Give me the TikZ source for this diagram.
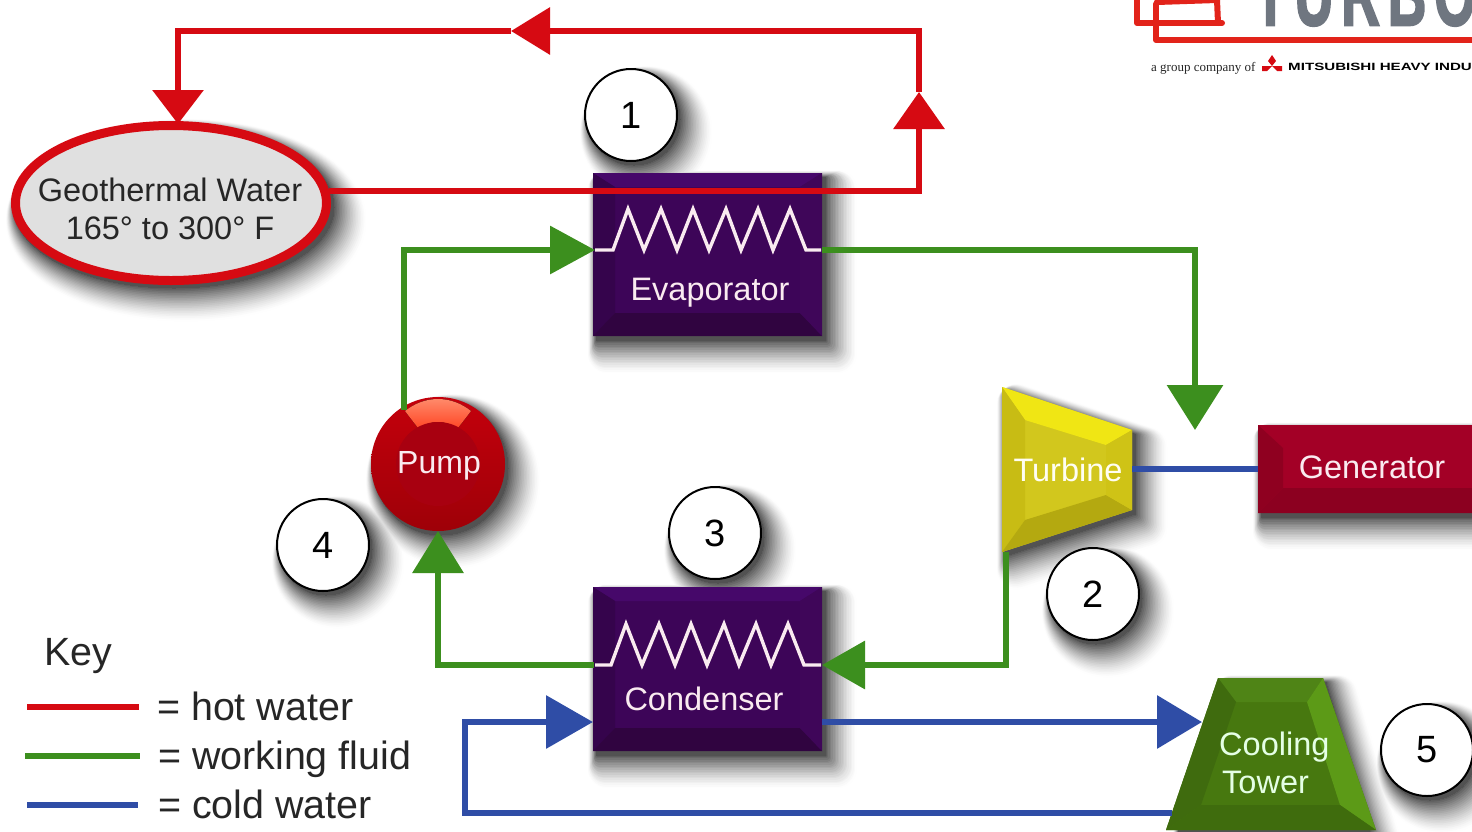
\documentclass[tikz,border=0pt]{standalone}
\usepackage{fontspec}
\setmainfont{Liberation Sans}
\newfontfamily\serifface{Liberation Serif}
\newfontfamily\logoface[FakeBold=3]{Liberation Sans Bold}
\usetikzlibrary{arrows.meta,shapes.geometric}
\definecolor{hotred}{HTML}{D60A12}
\definecolor{logored}{HTML}{E2231A}
\definecolor{logogray}{HTML}{6F7680}
\definecolor{fluidgreen}{HTML}{3C8F1E}
\definecolor{coldblue}{HTML}{2F4DA6}
\definecolor{purp}{HTML}{3D0558}
\definecolor{purpT}{HTML}{46086A}
\definecolor{purpL}{HTML}{35044C}
\definecolor{purpB}{HTML}{300440}
\definecolor{purpR}{HTML}{3F0659}
\definecolor{genC}{HTML}{A30026}
\definecolor{genL}{HTML}{8F0020}
\definecolor{genB}{HTML}{8C0020}
\definecolor{towC}{HTML}{47780F}
\definecolor{towT}{HTML}{4F8416}
\definecolor{towL}{HTML}{3F6B0E}
\definecolor{towR}{HTML}{5C9A17}
\definecolor{towB}{HTML}{3F6C0D}
\definecolor{turC}{HTML}{D2C71D}
\definecolor{turT}{HTML}{F0E614}
\definecolor{turL}{HTML}{C8BC14}
\definecolor{turB}{HTML}{B4A910}
\definecolor{turR}{HTML}{CFC316}
\definecolor{pumpTop}{HTML}{C4000C}
\definecolor{pumpBot}{HTML}{9E0008}
\definecolor{pumpMid}{HTML}{A80010}
\newcommand{\softshadow}[1]{\foreach \w in {40,38,...,0}{%
  \pgfmathsetmacro\gr{68*(1-\w/41)^1.4}%
  \pgfmathsetmacro\sx{3+0.3*\w}%
  \pgfmathsetmacro\sy{4+0.33*\w}%
  \draw[blend mode=darken,line width=\w pt,draw=black!\gr,fill=black!\gr,line join=round,shift={(\sx,\sy)}] #1;}}
\newcommand{\fsz}[1]{\fontsize{#1}{#1}\selectfont}
\tikzset{
  x=1pt,y=-1pt,
  shapebox/.style={inner sep=0,outer sep=0,minimum width=229pt,minimum height=163pt,fill=purp},
  boxtext/.style={inner sep=0,text=white!92!purple,font=\fsz{32.5}},
  pipe/.style={line width=6.5pt,line join=miter},
  hot/.style={pipe,draw=hotred},
  fluid/.style={pipe,draw=fluidgreen},
  cold/.style={pipe,draw=coldblue},
  badge/.style={circle,draw=black,line width=2pt,fill=white,minimum size=92pt,inner sep=0,font=\fsz{38}},
  keytext/.style={anchor=base west,inner sep=0,font=\fsz{39.4},text=black!85},
  coil/.style={draw=white!92!purple,line width=3.4pt,line join=miter},
  logoline/.style={line width=6pt,draw=logored,line cap=round,line join=round}
}
\begin{document}
\begin{tikzpicture}
\useasboundingbox (0,0) rectangle (1472,831);
\fill[white] (0,0) rectangle (1472,831);

% logo
\begin{scope}
\clip (0,0) rectangle (1472,831);
\draw[logoline] (1137,-3) -- (1137,23) -- (1222,23);
\draw[logoline] (1157,2) -- (1217,0) -- (1218,23);
\draw[logoline] (1156,4) -- (1156,40) -- (1480,40);
\node[anchor=base west,inner sep=0,text=logogray,font=\logoface\fsz{58}] (logoname) at (1254,25) {\scalebox{0.92}[1.5]{T\kern8.7pt U\kern8.7pt R\kern8.7pt B\kern8.7pt O}};
\node[anchor=base west,inner sep=0,text=black!85,font=\serifface\fsz{13}] (logotag) at (1151,71) {a group company of};
\fill[hotred] (1272,55) -- (1276,61) -- (1272,66) -- (1268,61) -- cycle;
\fill[hotred] (1272,66) -- (1262,66) -- (1262,71) -- (1267,71) -- cycle;
\fill[hotred] (1272,66) -- (1282,66) -- (1282,71) -- (1277,71) -- cycle;
\node[anchor=base west,inner sep=0,text=black,font=\bfseries\fsz{10.5}] (logocompany) at (1288,70.5) {\scalebox{1.44}[1]{MITSUBISHI HEAVY INDU}};
\end{scope}

% shadows
\softshadow{(631,115) circle [radius=46pt]}
\softshadow{(1093,594) circle [radius=46pt]}
\softshadow{(715,533) circle [radius=46pt]}
\softshadow{(323,545) circle [radius=46pt]}
\softshadow{(1427,750) circle [radius=46pt]}
\softshadow{(593,173) rectangle (822,336)}
\softshadow{(593,587) rectangle (822,751)}
\softshadow{(1002,387) -- (1132,430) -- (1132,510) -- (1002,552) -- cycle}
\softshadow{(1258,425) rectangle (1520,513)}
\softshadow{(1218,678) -- (1323,678) -- (1376,860) -- (1166,860) -- cycle}
\softshadow{(438,464) circle [radius=67pt]}
\softshadow{(171,203) ellipse [x radius=160pt,y radius=81pt]}

% geothermal source
\node[ellipse,draw=hotred,line width=9pt,fill=black!12,minimum width=311pt,minimum height=155pt,inner sep=0] (geo) at (171,203) {};
\node[inner sep=0,font=\fsz{32.5},text=black!85,align=center] (geotext) at (170,209) {Geothermal Water\\[5pt]165° to 300° F};

% exchangers
\node[shapebox] (evap) at (707.5,254.5) {};
\fill[purpT] (593,173) -- (822,173) -- (800,187) -- (615,187) -- cycle;
\fill[purpL] (593,173) -- (615,187) -- (615,313) -- (593,336) -- cycle;
\fill[purpB] (593,336) -- (615,313) -- (800,313) -- (822,336) -- cycle;
\fill[purpR] (822,173) -- (800,187) -- (800,313) -- (822,336) -- cycle;
\node[shapebox,minimum height=164pt] (cond) at (707.5,669) {};
\fill[purpT] (593,587) -- (822,587) -- (800,601) -- (615,601) -- cycle;
\fill[purpL] (593,587) -- (615,601) -- (615,728) -- (593,751) -- cycle;
\fill[purpB] (593,751) -- (615,728) -- (800,728) -- (822,751) -- cycle;
\fill[purpR] (822,587) -- (800,601) -- (800,728) -- (822,751) -- cycle;
\draw[coil] (595,250) -- (613,250) -- (628,209) -- (644,250) -- (661,209) -- (677,250) -- (693,209) -- (709,250) -- (726,209) -- (741,250) -- (758,209) -- (773,250) -- (790,209) -- (806,250) -- (821,250);
\draw[coil] (595,665) -- (611,665) -- (626,624) -- (642,665) -- (659,624) -- (675,665) -- (691,624) -- (707,665) -- (724,624) -- (739,665) -- (756,624) -- (771,665) -- (788,624) -- (804,665) -- (821,665);
\node[boxtext] (evaptext) at (710,293) {Evaporator};
\node[boxtext] (condtext) at (704,699) {Condenser};

% turbine
\fill[turC] (1002,387) -- (1132,430) -- (1132,510) -- (1002,552) -- cycle;
\fill[turT] (1002,387) -- (1132,430) -- (1106,445) -- (1025,420) -- cycle;
\fill[turL] (1002,387) -- (1025,420) -- (1025,520) -- (1002,552) -- cycle;
\fill[turB] (1002,552) -- (1025,520) -- (1106,495) -- (1132,510) -- cycle;
\fill[turR] (1132,430) -- (1106,445) -- (1106,495) -- (1132,510) -- cycle;
\node[boxtext,text=white!95!yellow] (turbine) at (1068,470) {Turbine};

% generator
\node[inner sep=0,outer sep=0,minimum width=230pt,minimum height=88pt,fill=genC] (gen) at (1373,469) {};
\fill[genL] (1258,425) -- (1283,448) -- (1283,488) -- (1258,513) -- cycle;
\fill[genB] (1258,513) -- (1283,488) -- (1472,488) -- (1472,513) -- cycle;
\node[boxtext] (gentext) at (1372,467) {Generator};

% cooling tower
\fill[towC] (1218,678) -- (1323,678) -- (1376,830) -- (1166,830) -- cycle;
\fill[towT] (1218,678) -- (1323,678) -- (1307,702) -- (1236,702) -- cycle;
\fill[towL] (1218,678) -- (1236,702) -- (1201,805) -- (1166,830) -- cycle;
\fill[towR] (1323,678) -- (1307,702) -- (1340,805) -- (1376,830) -- cycle;
\fill[towB] (1166,830) -- (1201,805) -- (1340,805) -- (1376,830) -- cycle;
\node[boxtext,anchor=base west,text=white!90!green] (towertext) at (1219,755) {Cooling};
\node[boxtext,anchor=base west,text=white!90!green] (towertextb) at (1222,793) {Tower};

% pump
\node[circle,top color=pumpTop,bottom color=pumpBot,minimum size=134pt,inner sep=0,outer sep=0] (pump) at (438,464) {};
\fill[top color=orange!45!red!55!white,bottom color=red!70!orange!85!white] (405,411) .. controls (425,395) and (451,395) .. (471,411) -- (458,428) .. controls (445,420) and (431,420) .. (418,428) -- cycle;
\fill[pumpMid] (438,464) circle [radius=42pt];
\node[boxtext,font=\fsz{32}] (pumptext) at (439,466) {Pump};

% connector end points
\coordinate (geoOut) at (329,191);
\coordinate (riserTip) at (919,92);
\coordinate (topTip) at (511,31);
\coordinate (geoIn) at (178,124);
\coordinate (evapIn) at (595,250);
\coordinate (evapOut) at (822,250);
\coordinate (turbIn) at (1195,430);
\coordinate (turbOut) at (1006,552);
\coordinate (condIn) at (822,665);
\coordinate (condOut) at (594,665);
\coordinate (pumpIn) at (438,531);
\coordinate (pumpOut) at (404,410);
\coordinate (condColdOut) at (822,722);
\coordinate (towerIn) at (1202,722);
\coordinate (towerOut) at (1172,813);
\coordinate (condColdIn) at (593,722);
\coordinate (coldCorner) at (465,722);
\coordinate (shaftA) at (1132,469);
\coordinate (shaftB) at (1258,469);

% connectors
\draw[hot,-{Triangle[length=37pt,width=50pt]}] (geoOut) -| (riserTip);
\draw[hot,-{Triangle[length=39pt,width=46pt]}] (riserTip) |- (topTip);
\draw[hot,-{Triangle[length=34pt,width=50pt]}] (topTip) -| (geoIn);
\draw[fluid,-{Triangle[length=45pt,width=47pt]}] (pumpOut) |- (evapIn);
\draw[fluid,-{Triangle[length=45pt,width=55pt]}] (evapOut) -| (turbIn);
\draw[fluid,-{Triangle[length=43pt,width=47pt]}] (turbOut) |- (condIn);
\draw[fluid,-{Triangle[length=42pt,width=50pt]}] (condOut) -| (pumpIn);
\draw[cold,-{Triangle[length=45pt,width=52pt]}] (condColdOut) -- (towerIn);
\draw[cold,-{Triangle[length=47pt,width=52pt]}] (towerOut) -| (coldCorner) -- (condColdIn);
\draw[cold] (shaftA) -- (shaftB);

% numbered circles
\node[badge] (n1) at (631,115) {1};
\node[badge] (n2) at (1093,594) {2};
\node[badge] (n3) at (715,533) {3};
\node[badge] (n4) at (323,545) {4};
\node[badge] (n5) at (1427,750) {5};

% key
\node[keytext] (keyhead) at (44,665) {Key};
\coordinate (k1a) at (27,707); \coordinate (k1b) at (139,707);
\coordinate (k2a) at (25,756); \coordinate (k2b) at (140,756);
\coordinate (k3a) at (27,805); \coordinate (k3b) at (138,805);
\draw[hot] (k1a) -- (k1b);
\draw[fluid] (k2a) -- (k2b);
\draw[cold] (k3a) -- (k3b);
\node[keytext] (k1t) at (157,720) {= hot water};
\node[keytext] (k2t) at (158,769) {= working fluid};
\node[keytext] (k3t) at (158,818) {= cold water};
\end{tikzpicture}
\end{document}
